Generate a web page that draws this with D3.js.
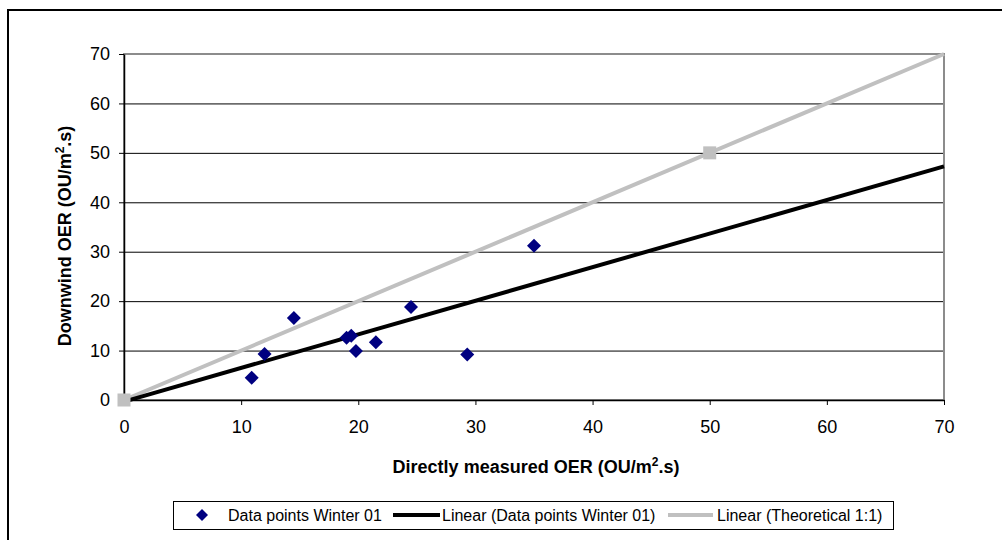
<!DOCTYPE html>
<html>
<head>
<meta charset="utf-8">
<script src="https://cdn.jsdelivr.net/npm/d3@7"></script>
<style>
  html, body { margin: 0; padding: 0; background: #fff; }
  svg { display: block; font-family: Arial, "Liberation Sans", sans-serif; }
</style>
</head>
<body>
<svg id="chart" width="1002" height="540"></svg>
<script>
// Winter 01 measurements: directly measured vs downwind odour emission rates
const measuredOER = [10.9, 12.0, 14.5, 19.0, 19.4, 19.8, 21.5, 24.5, 29.3, 35.0];
const downwindOER = [4.5, 9.3, 16.6, 12.6, 13.0, 9.9, 11.7, 18.8, 9.2, 31.2];

// Theoretical 1:1 reference series
const theoreticalX = [0, 50];
const theoreticalY = [0, 50];

const xTicks = [0, 10, 20, 30, 40, 50, 60, 70];
const yTicks = [0, 10, 20, 30, 40, 50, 60, 70];

const legendLabels = [
  "Data points Winter 01",
  "Linear (Data points Winter 01)",
  "Linear (Theoretical 1:1)"
];

const svg = d3.select("#chart");

// chart frame (runs off the right and bottom edges)
svg.append("rect")
  .attr("x", 8).attr("y", 10)
  .attr("width", 1100).attr("height", 600)
  .attr("fill", "#fff").attr("stroke", "#000").attr("stroke-width", 2);

const plot = { left: 124, right: 944, top: 54, bottom: 400 };

const x = d3.scaleLinear().domain([0, 70]).range([plot.left, plot.right]);
const y = d3.scaleLinear().domain([0, 70]).range([plot.bottom, plot.top]);

// horizontal gridlines
svg.append("g")
  .selectAll("line")
  .data(yTicks.filter(d => d > 0 && d < 70))
  .join("line")
  .attr("x1", plot.left).attr("x2", plot.right)
  .attr("y1", d => y(d) + 0.5).attr("y2", d => y(d) + 0.5)
  .attr("stroke", "#000").attr("stroke-width", 1);

// plot area border
svg.append("rect")
  .attr("x", plot.left).attr("y", plot.top)
  .attr("width", plot.right - plot.left).attr("height", plot.bottom - plot.top)
  .attr("fill", "none").attr("stroke", "#8c8c8c").attr("stroke-width", 2);

// axes
const yAxis = svg.append("g")
  .attr("transform", `translate(${plot.left},0)`)
  .call(d3.axisLeft(y).tickValues(yTicks).tickSize(5).tickPadding(9).tickSizeOuter(0));
const xAxis = svg.append("g")
  .attr("transform", `translate(0,${plot.bottom})`)
  .call(d3.axisBottom(x).tickValues(xTicks).tickSize(5).tickPadding(15).tickSizeOuter(0));

[xAxis, yAxis].forEach(g => {
  g.select(".domain").attr("stroke", "#000").attr("stroke-width", 1.5);
  g.selectAll(".tick line").attr("stroke", "#000").attr("stroke-width", 1);
  g.selectAll(".tick text")
    .attr("fill", "#000")
    .style("font-size", "18px")
    .style("font-family", "Arial, 'Liberation Sans', sans-serif");
});

// least-squares trendline through the Winter 01 points
const mx = d3.mean(measuredOER), my = d3.mean(downwindOER);
const sxy = d3.sum(measuredOER, (v, i) => (v - mx) * (downwindOER[i] - my));
const sxx = d3.sum(measuredOER, v => (v - mx) * (v - mx));
const slope = sxy / sxx;
const intercept = my - slope * mx;
const trendDomain = [0, 70];

const line = d3.line().x(d => x(d[0])).y(d => y(d[1]));

// theoretical 1:1 line across the full axis range
svg.append("path")
  .datum(trendDomain.map(v => [v, v]))
  .attr("d", line)
  .attr("fill", "none").attr("stroke", "#c0c0c0").attr("stroke-width", 4);

// trendline
svg.append("path")
  .datum(trendDomain.map(v => [v, intercept + slope * v]))
  .attr("d", line)
  .attr("fill", "none").attr("stroke", "#000").attr("stroke-width", 4);

// theoretical markers
const sq = 13;
svg.append("g")
  .selectAll("rect")
  .data(theoreticalX.map((v, i) => [v, theoreticalY[i]]))
  .join("rect")
  .attr("x", d => x(d[0]) - sq / 2).attr("y", d => y(d[1]) - sq / 2)
  .attr("width", sq).attr("height", sq)
  .attr("fill", "#c0c0c0");

// data point diamonds
const diamond = r => `M0,${-r}L${r},0L0,${r}L${-r},0Z`;
svg.append("g")
  .selectAll("path")
  .data(measuredOER.map((v, i) => [v, downwindOER[i]]))
  .join("path")
  .attr("transform", d => `translate(${x(d[0])},${y(d[1])})`)
  .attr("d", diamond(7))
  .attr("fill", "#000080");

// axis titles
const xTitle = svg.append("text")
  .attr("x", (plot.left + plot.right) / 2 + 2).attr("y", 473)
  .attr("text-anchor", "middle")
  .style("font-size", "18px").style("font-weight", "bold");
xTitle.append("tspan").text("Directly measured OER (OU/m");
xTitle.append("tspan").attr("dy", -7).style("font-size", "12px").text("2");
xTitle.append("tspan").attr("dy", 7).text(".s)");

const yTitle = svg.append("text")
  .attr("transform", "translate(71,236) rotate(-90)")
  .attr("text-anchor", "middle")
  .style("font-size", "18px").style("font-weight", "bold");
yTitle.append("tspan").text("Downwind OER (OU/m");
yTitle.append("tspan").attr("dy", -7).style("font-size", "12px").text("2");
yTitle.append("tspan").attr("dy", 7).text(".s)");

// legend
const legend = svg.append("g");
legend.append("rect")
  .attr("x", 173.5).attr("y", 501.5)
  .attr("width", 720).attr("height", 28)
  .attr("fill", "#fff").attr("stroke", "#000").attr("stroke-width", 1);

const ly = 515;
legend.append("path")
  .attr("transform", `translate(202,${ly})`)
  .attr("d", diamond(6))
  .attr("fill", "#000080");
legend.append("line")
  .attr("x1", 393).attr("x2", 440).attr("y1", ly).attr("y2", ly)
  .attr("stroke", "#000").attr("stroke-width", 4);
legend.append("line")
  .attr("x1", 668).attr("x2", 713).attr("y1", ly).attr("y2", ly)
  .attr("stroke", "#c0c0c0").attr("stroke-width", 4);

const legendX = [228, 442, 717];
legend.selectAll("text.lg")
  .data(legendLabels)
  .join("text")
  .attr("class", "lg")
  .attr("x", (d, i) => legendX[i])
  .attr("y", ly + 6)
  .style("font-size", "16px")
  .text(d => d);
</script>
</body>
</html>
